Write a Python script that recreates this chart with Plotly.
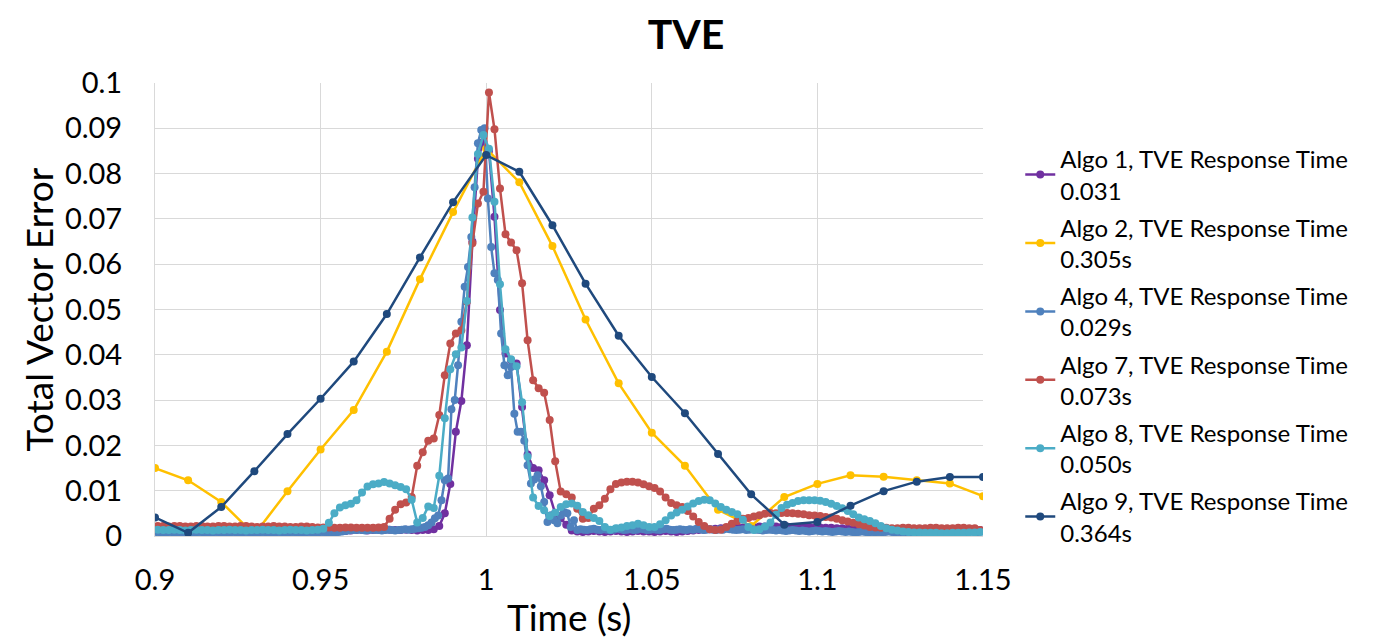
import plotly.graph_objects as go

# ---------------- data ----------------
time_10ms = [0.90, 0.91, 0.92, 0.93, 0.94, 0.95, 0.96, 0.97, 0.98, 0.99,
             1.00, 1.01, 1.02, 1.03, 1.04, 1.05, 1.06, 1.07, 1.08, 1.09,
             1.10, 1.11, 1.12, 1.13, 1.14, 1.15]

algo2 = [0.0150, 0.0123, 0.0075, 0.0003, 0.0099, 0.0191, 0.0278, 0.0407, 0.0567, 0.0715,
         0.0855, 0.0781, 0.0640, 0.0478, 0.0337, 0.0228, 0.0155, 0.0058, 0.0022, 0.0086,
         0.0115, 0.0134, 0.0131, 0.0123, 0.0116, 0.0088]

algo9 = [0.0041, 0.0007, 0.0064, 0.0143, 0.0225, 0.0303, 0.0385, 0.0490, 0.0615, 0.0737,
         0.0841, 0.0804, 0.0686, 0.0557, 0.0442, 0.0351, 0.0271, 0.0181, 0.0092, 0.0025,
         0.0031, 0.0067, 0.0099, 0.0120, 0.0130, 0.0130]

# 600 Hz sampled series (Algo 1, 7, 8)
time_600hz = [round(0.9 + (i + 0.5) / 600, 6) for i in range(150)]

algo1 = [0.0012, 0.0013, 0.0012, 0.0011, 0.0012, 0.0013, 0.0012, 0.0012, 0.0011, 0.0012,
         0.0013, 0.0012, 0.0012, 0.0011, 0.0012, 0.0013, 0.0012, 0.0011, 0.0012, 0.0012,
         0.0013, 0.0012, 0.0011, 0.0012, 0.0013, 0.0012, 0.0012, 0.0011, 0.0012, 0.0013,
         0.0012, 0.0012, 0.0013, 0.0012, 0.0011, 0.0012, 0.0013, 0.0013, 0.0012, 0.0013,
         0.0014, 0.0013, 0.0014, 0.0013, 0.0013, 0.0014, 0.0013, 0.0012, 0.0013,
         0.0013, 0.0015, 0.0022, 0.0050, 0.0115, 0.0230, 0.0298, 0.0421, 0.0650, 0.0833,
         0.0870, 0.0850, 0.0705, 0.0499, 0.0403, 0.0388, 0.0381, 0.0285, 0.0180, 0.0150,
         0.0145, 0.0123, 0.0090, 0.0050, 0.0039, 0.0025, 0.0012,
         0.0010, 0.0009, 0.0010, 0.0011, 0.0010, 0.0009, 0.0010, 0.0011, 0.0010, 0.0009,
         0.0010, 0.0011, 0.0010, 0.0010, 0.0009, 0.0010, 0.0011, 0.0010, 0.0009, 0.0010,
         0.0011, 0.0012, 0.0013, 0.0014, 0.0015, 0.0016, 0.0017, 0.0018, 0.0018, 0.0019,
         0.0019, 0.0020, 0.0020, 0.0021, 0.0021, 0.0020, 0.0021, 0.0020, 0.0021, 0.0020,
         0.0020, 0.0019, 0.0020, 0.0019, 0.0019, 0.0018, 0.0018, 0.0017, 0.0017, 0.0016,
         0.0016, 0.0015, 0.0015, 0.0014, 0.0014, 0.0013, 0.0013, 0.0012, 0.0013, 0.0012,
         0.0012, 0.0013, 0.0012, 0.0012, 0.0013, 0.0012, 0.0012, 0.0013, 0.0012, 0.0012,
         0.0013, 0.0012, 0.0012, 0.0013]

algo7 = [0.0022, 0.0022, 0.0021, 0.0022, 0.0022, 0.0021, 0.0021, 0.0022, 0.0022, 0.0021,
         0.0021, 0.0022, 0.0022, 0.0021, 0.0021, 0.0022, 0.0022, 0.0021, 0.0020, 0.0021,
         0.0021, 0.0022, 0.0021, 0.0021, 0.0020, 0.0020, 0.0021, 0.0021, 0.0020, 0.0019,
         0.0019, 0.0019, 0.0018, 0.0018, 0.0019, 0.0019, 0.0018, 0.0018, 0.0018, 0.0018,
         0.0019,
         0.0020, 0.0038, 0.0058, 0.0070, 0.0074, 0.0086, 0.0155, 0.0185, 0.0210, 0.0215,
         0.0267, 0.0355, 0.0425, 0.0447, 0.0454, 0.0517, 0.0646, 0.0734, 0.0760, 0.0979,
         0.0898, 0.0767, 0.0666, 0.0648, 0.0631, 0.0558, 0.0432, 0.0344, 0.0326, 0.0316,
         0.0256, 0.0165, 0.0098, 0.0092, 0.0085, 0.0060, 0.0038, 0.0040, 0.0060, 0.0068,
         0.0082, 0.0103, 0.0115, 0.0118, 0.0120, 0.0120, 0.0118, 0.0114, 0.0110, 0.0106,
         0.0098, 0.0085, 0.0073, 0.0068, 0.0064, 0.0055, 0.0043, 0.0031, 0.0022, 0.0015,
         0.0013, 0.0014, 0.0020, 0.0027, 0.0033, 0.0038, 0.0040, 0.0043, 0.0046, 0.0049,
         0.0051, 0.0050, 0.0051, 0.0051, 0.0050, 0.0049, 0.0048, 0.0046, 0.0045, 0.0044,
         0.0042, 0.0041, 0.0038, 0.0035, 0.0032, 0.0029, 0.0026, 0.0023, 0.0020, 0.0019,
         0.0018, 0.0018, 0.0017, 0.0017, 0.0018, 0.0018, 0.0017, 0.0017, 0.0017, 0.0018,
         0.0018, 0.0017, 0.0017, 0.0017, 0.0018, 0.0018, 0.0017, 0.0017, 0.0013]

algo8 = [0.0014, 0.0013, 0.0013, 0.0014, 0.0013, 0.0012, 0.0013, 0.0014, 0.0013, 0.0013,
         0.0012, 0.0013, 0.0013, 0.0014, 0.0013, 0.0013, 0.0012, 0.0013, 0.0013, 0.0014,
         0.0013, 0.0013, 0.0012, 0.0013, 0.0014, 0.0013, 0.0013, 0.0012, 0.0013, 0.0014,
         0.0016,
         0.0029, 0.0050, 0.0063, 0.0068, 0.0071, 0.0079, 0.0096, 0.0109, 0.0114, 0.0116,
         0.0119, 0.0116, 0.0112, 0.0108, 0.0103, 0.0080, 0.0030, 0.0040, 0.0065, 0.0062,
         0.0133, 0.0260, 0.0368, 0.0401, 0.0416, 0.0519, 0.0703, 0.0843, 0.0885, 0.0855,
         0.0738, 0.0556, 0.0412, 0.0390, 0.0375, 0.0295, 0.0175, 0.0085, 0.0066, 0.0057,
         0.0044, 0.0052, 0.0064, 0.0070, 0.0072, 0.0067, 0.0053, 0.0046, 0.0040, 0.0033,
         0.0020, 0.0014, 0.0017, 0.0019, 0.0022, 0.0024, 0.0027, 0.0024, 0.0020, 0.0020,
         0.0026, 0.0035, 0.0045, 0.0052, 0.0058, 0.0065, 0.0072, 0.0077, 0.0080, 0.0079,
         0.0072, 0.0064, 0.0058, 0.0053, 0.0048, 0.0036, 0.0020, 0.0013, 0.0015, 0.0021,
         0.0030, 0.0047, 0.0062, 0.0069, 0.0073, 0.0077, 0.0079, 0.0079, 0.0079, 0.0078,
         0.0075, 0.0071, 0.0066, 0.0061, 0.0055, 0.0048, 0.0041, 0.0037, 0.0033, 0.0028,
         0.0022, 0.0017, 0.0014, 0.0012, 0.0010,
         0.0009, 0.0008, 0.0008, 0.0007, 0.0007, 0.0007, 0.0006, 0.0006, 0.0007, 0.0007,
         0.0007, 0.0008, 0.0008, 0.0009]

# 1 kHz sampled series (Algo 4)
time_1khz = [round(0.9 + (k + 0.5) / 1000, 6) for k in range(250)]

algo4 = [0.0009, 0.0008, 0.0007, 0.0008, 0.0009, 0.0008, 0.0007, 0.0008, 0.0008, 0.0009,
         0.0008, 0.0007, 0.0008, 0.0009, 0.0008, 0.0008, 0.0007, 0.0008, 0.0009, 0.0008,
         0.0007, 0.0008, 0.0008, 0.0009, 0.0008, 0.0007, 0.0008, 0.0009, 0.0008, 0.0008,
         0.0007, 0.0008, 0.0009, 0.0008, 0.0007, 0.0008, 0.0008, 0.0009, 0.0008, 0.0007,
         0.0008, 0.0009, 0.0008, 0.0008, 0.0007, 0.0008, 0.0009, 0.0008, 0.0007, 0.0008,
         0.0009, 0.0008, 0.0008, 0.0007, 0.0008, 0.0009, 0.0010, 0.0011, 0.0012, 0.0013,
         0.0013, 0.0014, 0.0013, 0.0012, 0.0013, 0.0014, 0.0013, 0.0013, 0.0012, 0.0013,
         0.0014, 0.0013, 0.0012, 0.0013, 0.0014, 0.0015, 0.0014, 0.0015, 0.0016, 0.0017,
         0.0018,
         0.0020, 0.0024, 0.0030, 0.0039, 0.0045, 0.0079, 0.0123, 0.0127, 0.0280, 0.0300,
         0.0377, 0.0473, 0.0550, 0.0594, 0.0660, 0.0770, 0.0867, 0.0896, 0.0900, 0.0745,
         0.0638, 0.0580, 0.0565, 0.0447, 0.0377, 0.0355, 0.0373, 0.0270, 0.0230, 0.0230,
         0.0210, 0.0156, 0.0116, 0.0125, 0.0134, 0.0110, 0.0075, 0.0031, 0.0046, 0.0035,
         0.0028, 0.0045, 0.0053, 0.0050, 0.0020, 0.0035, 0.0013,
         0.0015, 0.0014, 0.0013, 0.0015, 0.0016, 0.0014, 0.0013, 0.0015, 0.0014, 0.0013,
         0.0014, 0.0016, 0.0015, 0.0013, 0.0014, 0.0015, 0.0013, 0.0014, 0.0016, 0.0015,
         0.0013, 0.0014, 0.0015, 0.0014, 0.0013, 0.0015, 0.0016, 0.0014, 0.0013, 0.0014,
         0.0015, 0.0014, 0.0013, 0.0015, 0.0014, 0.0016, 0.0015, 0.0013, 0.0014, 0.0015,
         0.0014, 0.0013, 0.0015, 0.0014, 0.0016, 0.0015, 0.0014, 0.0013, 0.0014, 0.0015,
         0.0013, 0.0014, 0.0015, 0.0014, 0.0013, 0.0012, 0.0013, 0.0014, 0.0013, 0.0012,
         0.0013, 0.0012, 0.0011, 0.0012, 0.0013, 0.0012, 0.0011, 0.0012, 0.0011, 0.0010,
         0.0011, 0.0012, 0.0011, 0.0010, 0.0011, 0.0010, 0.0009, 0.0010, 0.0011, 0.0010,
         0.0009, 0.0010, 0.0009, 0.0008, 0.0009, 0.0010, 0.0009, 0.0008, 0.0009, 0.0008,
         0.0009, 0.0008, 0.0009, 0.0010, 0.0009, 0.0008, 0.0009, 0.0008, 0.0009, 0.0008,
         0.0008, 0.0009, 0.0008, 0.0009, 0.0010, 0.0009, 0.0008, 0.0009, 0.0008, 0.0009,
         0.0008, 0.0009, 0.0010, 0.0009, 0.0008, 0.0009, 0.0008, 0.0009, 0.0010, 0.0009,
         0.0009, 0.0010]

series_names = ["Algo 1, TVE Response Time<br>0.031",
                "Algo 2, TVE Response Time<br>0.305s",
                "Algo 4, TVE Response Time<br>0.029s",
                "Algo 7, TVE Response Time<br>0.073s",
                "Algo 8, TVE Response Time<br>0.050s",
                "Algo 9, TVE Response Time<br>0.364s"]

x_ticks = [0.9, 0.95, 1.0, 1.05, 1.1, 1.15]
x_tick_labels = ["0.9", "0.95", "1", "1.05", "1.1", "1.15"]
y_ticks = [0, 0.01, 0.02, 0.03, 0.04, 0.05, 0.06, 0.07, 0.08, 0.09, 0.1]
y_tick_labels = ["0", "0.01", "0.02", "0.03", "0.04", "0.05", "0.06", "0.07", "0.08", "0.09", "0.1"]

# ---------------- figure ----------------
FONT = "Lato"
W, H = 1375, 636
colors = ["#7030A0", "#FFC000", "#4F81BD", "#C0504D", "#4BACC6", "#1F497D"]
xs = [time_600hz, time_10ms, time_1khz, time_600hz, time_600hz, time_10ms]
ys = [algo1, algo2, algo4, algo7, algo8, algo9]

fig = go.Figure()
for name, c, x, y in zip(series_names, colors, xs, ys):
    fig.add_trace(go.Scatter(
        x=x, y=y, name=name, mode="lines+markers", legendgroup=name,
        line=dict(color=c, width=2.5),
        marker=dict(color=c, size=8),
    ))

fig.update_layout(
    width=W, height=H,
    paper_bgcolor="white", plot_bgcolor="white",
    margin=dict(l=147, r=400, t=75, b=108, autoexpand=False),
    title=dict(text="<b>TVE</b>", x=678 / W, xref="container", xanchor="center",
               y=1 - 27 / H, yref="container", yanchor="middle",
               font=dict(family=FONT, size=41, color="#000000")),
    font=dict(family=FONT, color="#000000"),
    showlegend=True,
    legend=dict(x=1.045, xanchor="left", y=0.881, yanchor="top",
                font=dict(family=FONT, size=24, color="#000000"),
                itemwidth=30, tracegroupgap=3, bgcolor="rgba(0,0,0,0)"),
    annotations=[
        dict(text="Time (s)", xref="paper", yref="paper", x=0.5, y=-0.178,
             xanchor="center", yanchor="middle", showarrow=False,
             font=dict(family=FONT, size=37, color="#000000")),
        dict(text="Total Vector Error", xref="paper", yref="paper", x=-0.1413, y=0.5,
             xanchor="center", yanchor="middle", showarrow=False, textangle=-90,
             font=dict(family=FONT, size=37, color="#000000")),
    ],
)

fig.update_xaxes(
    range=[0.9, 1.15], tickvals=x_ticks, ticktext=x_tick_labels,
    showgrid=True, gridcolor="#D9D9D9", gridwidth=1,
    zeroline=False, showline=True, linecolor="#D9D9D9", linewidth=1,
    tickfont=dict(family=FONT, size=29, color="#000000"),
    ticks="", ticklabelstandoff=18,
)
fig.update_yaxes(
    range=[0, 0.1], tickvals=y_ticks, ticktext=y_tick_labels,
    showgrid=True, gridcolor="#D9D9D9", gridwidth=1,
    zeroline=False, showline=True, linecolor="#D9D9D9", linewidth=1,
    tickfont=dict(family=FONT, size=29, color="#000000"),
    ticks="", ticklabelstandoff=26,
)

fig.write_html("out.html")
